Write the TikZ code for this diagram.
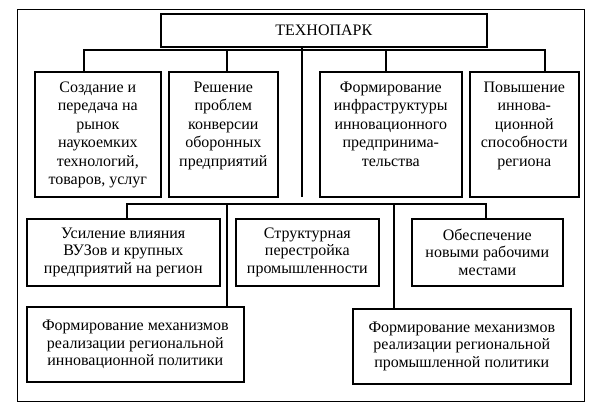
\documentclass[tikz,border=0pt]{standalone}
\usepackage{fontspec}
\setmainfont{Liberation Serif}
\begin{document}
\begin{tikzpicture}[x=1pt,y=-1pt,
  box/.style={draw, line width=1.6pt, inner sep=0pt, anchor=north west},
  toptxt/.style={align=center, font=\fontsize{16}{18.5}\selectfont, inner sep=0pt, anchor=north},
  lowtxt/.style={align=center, font=\fontsize{16}{17.7}\selectfont},
  link/.style={line width=1.3pt, line join=miter}]
\useasboundingbox (0,0) rectangle (612,405);
\node[draw, line width=1.2pt, inner sep=0pt, anchor=north west, minimum width=567pt, minimum height=392pt] (frame) at (17,9) {};
\node[box, minimum width=326pt, minimum height=33pt, font=\fontsize{16}{18}\selectfont] (tp) at (160,13) {ТЕХНОПАРК};
% top row boxes
\node[box, minimum width=126pt, minimum height=125pt] (b1) at (34,71) {};
\node[box, minimum width=109pt, minimum height=125pt] (b2) at (168,71) {};
\node[box, minimum width=142pt, minimum height=125pt] (b3) at (319,71) {};
\node[box, minimum width=109pt, minimum height=125pt] (b4) at (469,71) {};
\node[toptxt] (b1t) at ([yshift=-10.5pt]b1.north) {Создание и\\передача на\\рынок\\наукоемких\\технологий,\\товаров, услуг};
\node[toptxt] (b2t) at ([yshift=-10.5pt]b2.north) {Решение\\проблем\\конверсии\\оборонных\\предприятий};
\node[toptxt] (b3t) at ([yshift=-10.5pt]b3.north) {Формирование\\инфраструктуры\\инновационного\\предпринима-\\тельства};
\node[toptxt] (b4t) at ([yshift=-10.5pt]b4.north) {Повышение\\иннова-\\ционной\\способности\\региона};
% lower boxes
\node[box, minimum width=193pt, minimum height=67pt, lowtxt] (b5) at (26,218) {Усиление влияния\\ВУЗов и крупных\\предприятий на регион};
\node[box, minimum width=143pt, minimum height=67pt, lowtxt] (b6) at (235,218) {Структурная\\перестройка\\промышленности};
\node[box, minimum width=151pt, minimum height=67pt, lowtxt] (b8) at (411,218) {Обеспечение\\новыми рабочими\\местами};
\node[box, minimum width=217pt, minimum height=75pt, lowtxt] (b7) at (26,306) {Формирование механизмов\\реализации региональной\\инновационной политики};
\node[box, minimum width=218pt, minimum height=75pt, lowtxt] (b9) at (352,308) {Формирование механизмов\\реализации региональной\\промышленной политики};
% connectors
\coordinate (trunkEnd) at (302,197);
\draw[link] (tp.south -| trunkEnd) -- (trunkEnd);
\coordinate (j1) at (84,50);
\coordinate (j2) at (227,50);
\coordinate (j3) at (386,50);
\coordinate (j4) at (545,50);
\draw[link] (b1.north -| j1) -- (j1) -- (j4) -- (b4.north -| j4);
\draw[link] (j2) -- (b2.north -| j2);
\draw[link] (j3) -- (b3.north -| j3);
\coordinate (k1) at (127,204);
\coordinate (k2) at (227,204);
\coordinate (k3) at (394,204);
\coordinate (k4) at (486,204);
\draw[link] (b5.north -| k1) -- (k1) -- (k4) -- (b8.north -| k4);
\draw[link] (k2) -- (b7.north -| k2);
\draw[link] (k3) -- (b9.north -| k3);
\end{tikzpicture}
\end{document}
